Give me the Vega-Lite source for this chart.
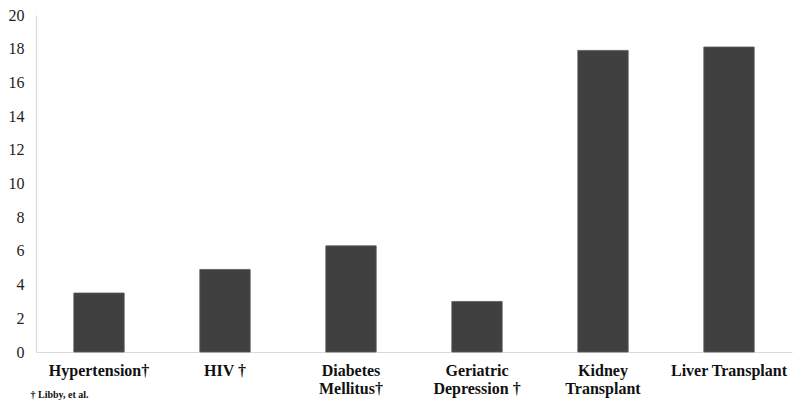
{
  "$schema": "https://vega.github.io/schema/vega-lite/v6.json",
  "autosize": {"type": "none"},
  "width": 756,
  "height": 337,
  "padding": {"left": 36, "top": 15, "right": 8, "bottom": 56},
  "background": "white",
  "config": {"view": {"stroke": null}, "font": "Liberation Serif"},
  "data": {
    "values": [
      {"condition": "Hypertension†", "value": 3.5},
      {"condition": "HIV †", "value": 4.9},
      {"condition": "Diabetes|Mellitus†", "value": 6.3},
      {"condition": "Geriatric|Depression †", "value": 3.0},
      {"condition": "Kidney|Transplant", "value": 17.9},
      {"condition": "Liver Transplant", "value": 18.1}
    ]
  },
  "mark": {"type": "bar", "color": "#404040", "stroke": "#5a5a5a", "strokeWidth": 0.8},
  "encoding": {
    "x": {
      "field": "condition",
      "type": "nominal",
      "sort": null,
      "scale": {"paddingInner": 0.6, "paddingOuter": 0.3},
      "axis": {
        "title": "† Libby, et al.",
        "titleFont": "Liberation Serif",
        "titleFontSize": 10,
        "titleFontWeight": "bold",
        "titleColor": "#111111",
        "titleAnchor": "start",
        "titleAlign": "left",
        "titleX": -6,
        "titleY": 37,
        "labelExpr": "split(datum.label, '|')",
        "labelAngle": 0,
        "labelFont": "Liberation Serif",
        "labelFontSize": 16,
        "labelFontWeight": "bold",
        "labelColor": "#111111",
        "labelLineHeight": 18,
        "labelPadding": 10,
        "ticks": false,
        "domainColor": "#d9d9d9",
        "domainWidth": 1.2
      }
    },
    "y": {
      "field": "value",
      "type": "quantitative",
      "scale": {"domain": [0, 20], "nice": false},
      "axis": {
        "title": null,
        "values": [0, 2, 4, 6, 8, 10, 12, 14, 16, 18, 20],
        "grid": false,
        "ticks": false,
        "labelFont": "Liberation Serif",
        "labelFontSize": 16,
        "labelColor": "#222222",
        "labelPadding": 12,
        "domainColor": "#d9d9d9",
        "domainWidth": 1.2
      }
    }
  }
}
